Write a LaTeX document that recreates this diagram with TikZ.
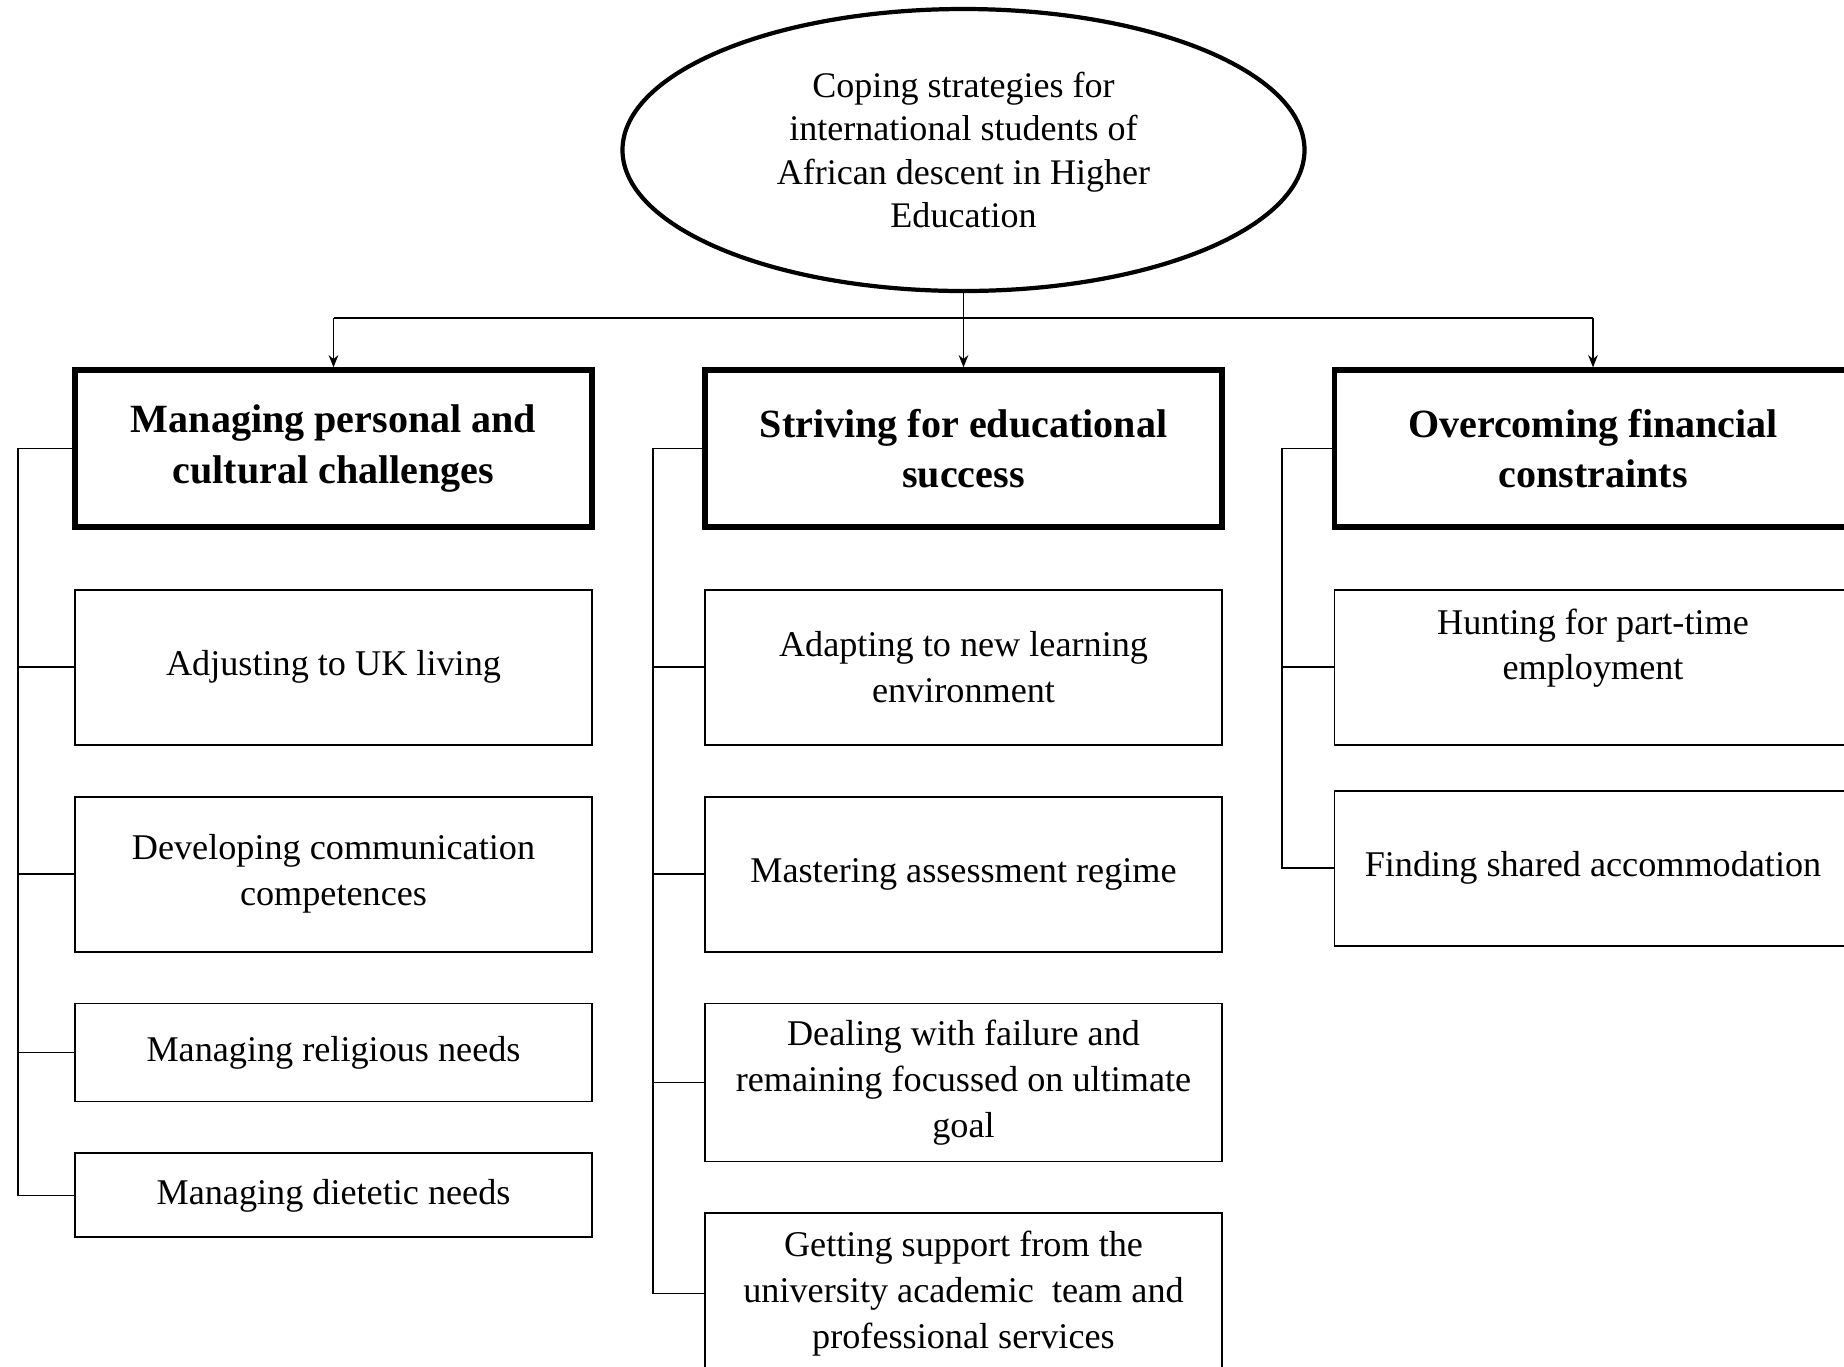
\documentclass[tikz,border=0pt]{standalone}
\usepackage{fontspec}
\setmainfont{Liberation Serif}
\usetikzlibrary{positioning,shapes.geometric,arrows.meta}

\begin{document}
\begin{tikzpicture}[
    node distance=1.0cm,
    rootshape/.style={ellipse, draw, line width=2.4pt, minimum width=13.64cm,
                      minimum height=5.64cm, align=center, inner sep=0pt,
                      font=\fontsize{20.5}{24.7}\selectfont},
    headbox/.style={draw, line width=3pt, minimum width=10.34cm, minimum height=3.14cm,
                    align=center, font=\fontsize{22.8}{28.8}\selectfont\bfseries},
    subbox/.style={draw, line width=1.1pt, minimum width=10.34cm, minimum height=3.1cm,
                   align=center, font=\fontsize{20.6}{26}\selectfont},
    arrow/.style={-{Stealth[length=7pt,width=5.5pt]}, line width=0.9pt},
    link/.style={line width=0.9pt}
]
    \useasboundingbox (0,0) rectangle (36.88,-27.32);

    % root and the three themes
    \node[rootshape] (root) at (19.27,-3.0) {Coping strategies for\\
        international students of\\ African descent in Higher\\ Education};

    \node[headbox] (h1) at (6.67,-8.97) {Managing personal and\\ cultural challenges};
    \node[headbox] (h2) at (19.27,-8.97) {Striving for educational\\ success};
    \node[headbox] (h3) at (31.86,-8.97) {Overcoming financial\\ constraints};

    % personal and cultural
    \node[subbox, below=1.18cm of h1] (d1) {Adjusting to UK living};
    \node[subbox, below=of d1] (d2) {Developing communication\\ competences};
    \node[subbox, below=of d2, minimum height=1.96cm] (d3) {Managing religious needs};
    \node[subbox, below=of d3, minimum height=1.68cm] (d4) {Managing dietetic needs};

    % educational success
    \node[subbox, below=1.18cm of h2] (m1) {Adapting to new learning\\ environment};
    \node[subbox, below=of m1] (m2) {Mastering assessment regime};
    \node[subbox, below=of m2, minimum height=3.16cm] (m3) {Dealing with failure and\\
        remaining focussed on ultimate\\ goal};
    \node[subbox, below=of m3, minimum height=3.2cm] (m4) {Getting support from the\\
        university academic\ \ team and\\ professional services};

    % financial
    \node[subbox, below=1.18cm of h3] (r1) {Hunting for part-time\\ employment\\ \mbox{}};
    \node[subbox, below=0.88cm of r1] (r2) {Finding shared accommodation};

    % top connectors
    \coordinate (bus) at (19.27,-6.36);
    \draw[arrow] (root.south) -- (h2.north);
    \draw[link] (h1.north |- bus) -- (h3.north |- bus);
    \draw[arrow] (h1.north |- bus) -- (h1.north);
    \draw[arrow] (h3.north |- bus) -- (h3.north);

    % side spines
    \coordinate (spineA) at (0.36,0);
    \coordinate (spineB) at (13.06,0);
    \coordinate (spineC) at (25.64,0);

    \draw[link] (h1.west) -- (h1.west -| spineA) -- (d4.west -| spineA) -- (d4.west);
    \foreach \n in {d1,d2,d3}
        \draw[link] (\n.west) -- (\n.west -| spineA);

    \draw[link] (h2.west) -- (h2.west -| spineB) -- (m4.west -| spineB) -- (m4.west);
    \foreach \n in {m1,m2,m3}
        \draw[link] (\n.west) -- (\n.west -| spineB);

    \draw[link] (h3.west) -- (h3.west -| spineC) -- (r2.west -| spineC) -- (r2.west);
    \draw[link] (r1.west) -- (r1.west -| spineC);
\end{tikzpicture}
\end{document}
